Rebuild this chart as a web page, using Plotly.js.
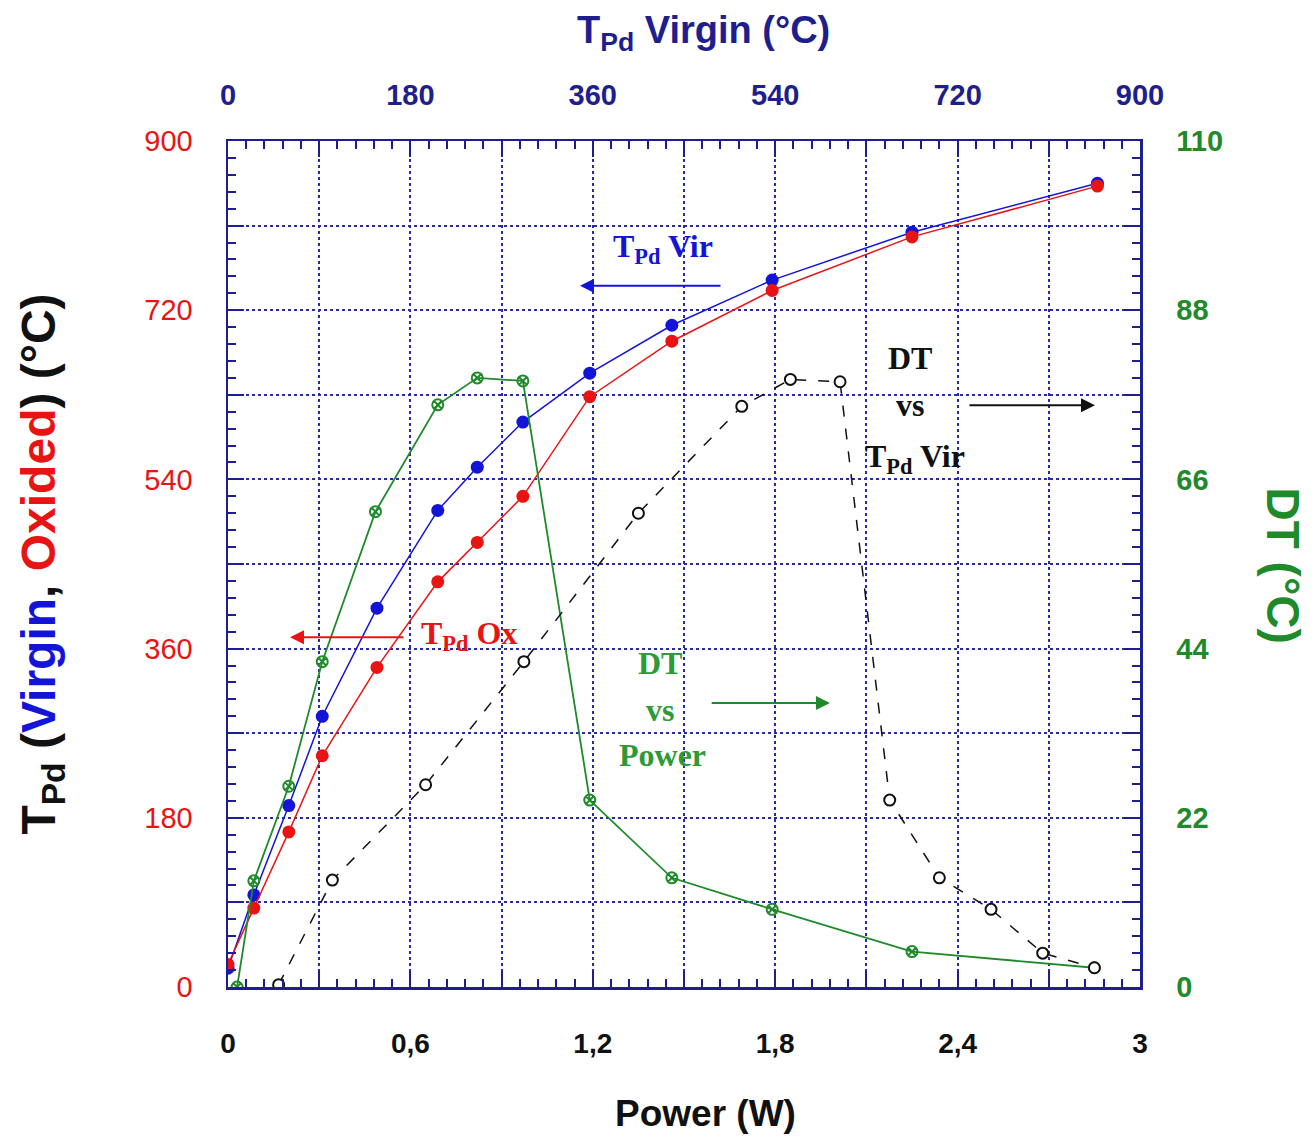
<!DOCTYPE html>
<html><head><meta charset="utf-8">
<script src="https://cdn.plot.ly/plotly-3.0.1.min.js"></script>
<style>html,body{margin:0;padding:0;background:#fff;}#chart{width:1315px;height:1139px;}</style>
</head><body><div id="chart"></div>
<script>
// Power (W)
const power = [0.0, 0.085, 0.2, 0.31, 0.49, 0.69, 0.82, 0.97, 1.19, 1.46, 1.79, 2.25, 2.86];
// T_Pd virgin (°C)
const tVirgin = [20, 98, 193, 288, 403, 507, 553, 601, 653, 704, 752, 803, 855];
// T_Pd oxided (°C)
const tOxided = [24, 84, 165, 246, 340, 431, 473, 522, 628, 687, 741, 798, 852];
// DT vs Power
const powerDT = [0.03, 0.085, 0.2, 0.31, 0.485, 0.69, 0.82, 0.97, 1.19, 1.46, 1.79, 2.25, 2.85];
const dtPower = [0, 13.8, 26.1, 42.3, 61.8, 75.7, 79.2, 78.8, 24.3, 14.2, 10.1, 4.6, 2.5];
// DT vs T_Pd virgin
const tVirDT = [50, 103, 195, 292, 405, 507, 555, 604, 653, 702, 753, 804, 855];
const dtTVir = [0.3, 13.9, 26.3, 42.3, 61.6, 75.5, 79.0, 78.7, 24.3, 14.2, 10.1, 4.4, 2.5];

const xTicks = [0, 0.3, 0.6, 0.9, 1.2, 1.5, 1.8, 2.1, 2.4, 2.7, 3.0];
const xTickText = ['0', '', '0,6', '', '1,2', '', '1,8', '', '2,4', '', '3'];
const yTicks = [0, 90, 180, 270, 360, 450, 540, 630, 720, 810, 900];
const yTickText = ['0', '', '180', '', '360', '', '540', '', '720', '', '900'];
const x2Ticks = [0, 90, 180, 270, 360, 450, 540, 630, 720, 810, 900];
const x2TickText = ['0', '', '180', '', '360', '', '540', '', '720', '', '900'];
const y2Ticks = [0, 11, 22, 33, 44, 55, 66, 77, 88, 99, 110];
const y2TickText = ['0', '', '22', '', '44', '', '66', '', '88', '', '110'];

const NAVY = '#1e1e8e';
const BLUE = '#1414d8';
const RED = '#e81414';
const GREEN = '#1f8a2a';
const GRIDC = '#2a2aa8';
const SANS = 'Arial, "Liberation Sans", sans-serif';

const traces = [
  {x: power, y: tVirgin, xaxis: 'x', yaxis: 'y', mode: 'lines+markers', name: 'T_Pd Virgin',
   line: {color: BLUE, width: 1.5}, marker: {color: BLUE, size: 13, symbol: 'circle'}},
  {x: power, y: tOxided, xaxis: 'x', yaxis: 'y', mode: 'lines+markers', name: 'T_Pd Oxided',
   line: {color: RED, width: 1.5}, marker: {color: RED, size: 13, symbol: 'circle'}},
  {x: powerDT, y: dtPower, xaxis: 'x', yaxis: 'y2', mode: 'lines+markers', name: 'DT vs Power',
   line: {color: GREEN, width: 1.8}, marker: {color: GREEN, size: 11, symbol: 'circle-x-open', line: {width: 2, color: GREEN}}},
  {x: tVirDT, y: dtTVir, xaxis: 'x2', yaxis: 'y2', mode: 'lines+markers', name: 'DT vs T_Pd Vir',
   line: {color: '#111', width: 1.5, dash: '11px,12px'}, marker: {color: '#fff', size: 11, symbol: 'circle', line: {width: 2, color: '#111'}}}
];

const axBase = {
  showline: true, linecolor: NAVY, linewidth: 2.5, ticks: 'inside', ticklen: 16, tickwidth: 2,
  tickcolor: NAVY, zeroline: false, tickmode: 'array', fixedrange: true
};

const annFont = {family: '"Liberation Serif", "Times New Roman", serif', size: 32};
const layout = {
  width: 1315, height: 1139,
  margin: {l: 228, r: 175, t: 141, b: 152},
  paper_bgcolor: '#fff', plot_bgcolor: '#fff',
  showlegend: false,
  xaxis: Object.assign({}, axBase, {
    range: [0, 3], tickvals: xTicks, ticktext: xTickText,
    showgrid: true, gridcolor: GRIDC, gridwidth: 2, griddash: 'dot',
    tickfont: {family: SANS, size: 28, color: '#111', weight: 'bold'},
    ticklabelstandoff: 30,
    minor: {dtick: 0.06, ticks: 'inside', ticklen: 8, tickwidth: 2, tickcolor: NAVY, showgrid: false}
  }),
  xaxis2: Object.assign({}, axBase, {
    range: [0, 900], overlaying: 'x', side: 'top', tickvals: x2Ticks, ticktext: x2TickText,
    showgrid: false,
    tickfont: {family: SANS, size: 29, color: NAVY, weight: 'bold'},
    ticklabelstandoff: 22,
    minor: {dtick: 18, ticks: 'inside', ticklen: 8, tickwidth: 2, tickcolor: NAVY, showgrid: false}
  }),
  yaxis: Object.assign({}, axBase, {
    range: [0, 900], tickvals: yTicks, ticktext: yTickText,
    showgrid: true, gridcolor: GRIDC, gridwidth: 2, griddash: 'dot',
    tickfont: {family: SANS, size: 29, color: RED},
    ticklabelstandoff: 27,
    minor: {dtick: 18, ticks: 'inside', ticklen: 8, tickwidth: 2, tickcolor: NAVY, showgrid: false},
    title: {text: '<b>T<sub>Pd</sub> (<span style="color:' + BLUE + '">Virgin</span>, <span style="color:' + RED + '">Oxided</span>) (°C)</b>',
            font: {family: SANS, size: 48, color: '#111'}, standoff: 74}
  }),
  yaxis2: Object.assign({}, axBase, {
    range: [0, 110], overlaying: 'y', side: 'right', tickvals: y2Ticks, ticktext: y2TickText,
    showgrid: false,
    tickfont: {family: SANS, size: 29, color: GREEN, weight: 'bold'},
    ticklabelstandoff: 28,
    minor: {dtick: 2.2, ticks: 'inside', ticklen: 8, tickwidth: 2, tickcolor: NAVY, showgrid: false}
  }),
  annotations: [
    // axis titles
    {xref: 'paper', yref: 'paper', x: 0.524, y: -0.149, xanchor: 'center', yanchor: 'middle', text: '<b>Power (W)</b>', showarrow: false,
     font: {family: SANS, size: 37, color: '#111'}},
    {xref: 'paper', yref: 'paper', x: 0.521, y: 1.128, xanchor: 'center', yanchor: 'middle', text: '<b>T<sub>Pd</sub> Virgin (°C)</b>', showarrow: false,
     font: {family: SANS, size: 38, color: NAVY}},
    {xref: 'paper', yref: 'paper', x: 1.157, y: 0.498, xanchor: 'center', yanchor: 'middle', text: '<b>DT (°C)</b>', textangle: 90, showarrow: false,
     font: {family: SANS, size: 46, color: GREEN}},
    // arrows
    {xref: 'x', yref: 'y', axref: 'x', ayref: 'y', x: 1.158, y: 746, ax: 1.625, ay: 746, text: '', showarrow: true,
     arrowhead: 2, arrowsize: 1.4, arrowwidth: 2, arrowcolor: BLUE},
    {xref: 'x', yref: 'y', axref: 'x', ayref: 'y', x: 0.204, y: 372, ax: 0.582, ay: 372, text: '', showarrow: true,
     arrowhead: 2, arrowsize: 1.4, arrowwidth: 2, arrowcolor: RED},
    {xref: 'x', yref: 'y', axref: 'x', ayref: 'y', x: 2.852, y: 619, ax: 2.434, ay: 619, text: '', showarrow: true,
     arrowhead: 2, arrowsize: 1.4, arrowwidth: 2, arrowcolor: '#111'},
    {xref: 'x', yref: 'y', axref: 'x', ayref: 'y', x: 1.98, y: 302, ax: 1.586, ay: 302, text: '', showarrow: true,
     arrowhead: 2, arrowsize: 1.4, arrowwidth: 2, arrowcolor: GREEN},
    // labels
    {xref: 'x', yref: 'y', x: 1.431, y: 786, text: '<b>T<sub>Pd</sub> Vir</b>', showarrow: false, font: Object.assign({}, annFont, {color: BLUE})},
    {xref: 'x', yref: 'y', x: 0.793, y: 374, text: '<b>T<sub>Pd</sub> Ox</b>', showarrow: false, font: Object.assign({}, annFont, {color: RED})},
    {xref: 'x', yref: 'y', x: 2.243, y: 669, text: '<b>DT</b>', showarrow: false, font: Object.assign({}, annFont, {color: '#111'})},
    {xref: 'x', yref: 'y', x: 2.243, y: 619, text: '<b>vs</b>', showarrow: false, font: Object.assign({}, annFont, {color: '#111'})},
    {xref: 'x', yref: 'y', x: 2.26, y: 562, text: '<b>T<sub>Pd</sub> Vir</b>', showarrow: false, font: Object.assign({}, annFont, {color: '#111'})},
    {xref: 'x', yref: 'y', x: 1.421, y: 345, text: '<b>DT</b>', showarrow: false, font: Object.assign({}, annFont, {color: '#2e9a36'})},
    {xref: 'x', yref: 'y', x: 1.421, y: 295, text: '<b>vs</b>', showarrow: false, font: Object.assign({}, annFont, {color: '#2e9a36'})},
    {xref: 'x', yref: 'y', x: 1.428, y: 247, text: '<b>Power</b>', showarrow: false, font: Object.assign({}, annFont, {color: '#2e9a36'})}
  ]
};

Plotly.newPlot('chart', traces, layout, {staticPlot: true, displayModeBar: false});
</script>
</body></html>
